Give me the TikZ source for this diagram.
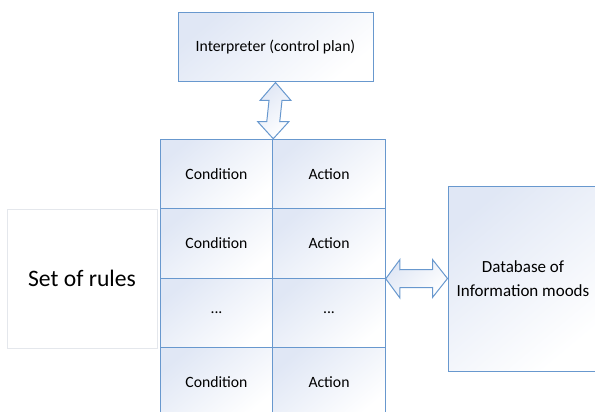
\documentclass[tikz,border=0pt]{standalone}
\usepackage{fontspec}
\setmainfont{Carlito}
\usetikzlibrary{calc}
\definecolor{edgeblue}{RGB}{104,152,206}
\definecolor{paleblue}{RGB}{224,231,245}
\definecolor{lightgrey}{RGB}{228,231,236}
\tikzset{
  softfill/.style={top color=paleblue, bottom color=white, shading angle=40},
  cell/.style={draw=edgeblue, line width=1pt, softfill, rectangle, inner sep=0pt,
    minimum width=112.5pt, minimum height=69.5pt,
    font=\fontsize{15.7}{19}\selectfont},
  bluebox/.style={draw=edgeblue, line width=1pt, softfill, rectangle, inner sep=0pt,
    align=center},
  greybox/.style={draw=lightgrey, line width=0.8pt, fill=white, rectangle, inner sep=0pt},
  dblarrow/.style={draw=edgeblue, line width=1pt, softfill, line join=miter}
}
\begin{document}
\begin{tikzpicture}[x=1pt, y=-1pt]
\useasboundingbox (0,0) rectangle (595,412);

% control plan at the top
\node[bluebox, minimum width=195pt, minimum height=69pt,
      font=\fontsize{15.7}{19}\selectfont] (interp) at (275.5,47.5) {Interpreter (control plan)};

% label box on the left
\node[greybox, minimum width=150pt, minimum height=139pt,
      font=\fontsize{23.6}{28}\selectfont] (rules) at (82,278.5) {Set of rules};

% rule table: condition / action pairs
\node[cell] (c1) at (216.5,174) {Condition};
\node[cell] (a1) at (329,174) {Action};
\node[cell] (c2) at (216.5,243.5) {Condition};
\node[cell] (a2) at (329,243.5) {Action};
\node[cell] (c3) at (216.5,313) {...};
\node[cell] (a3) at (329,313) {...};
\node[cell] (c4) at (216.5,382.5) {Condition};
\node[cell] (a4) at (329,382.5) {Action};

% database on the right
\node[bluebox, minimum width=150pt, minimum height=185pt,
      font=\fontsize{17}{24}\selectfont] (db) at (523,278.5) {Database of\\Information moods};

% vertical double arrow: interpreter <-> rule table
\coordinate (va) at (interp.south);
\coordinate (vb) at (c1.north east);
\draw[dblarrow] (va) -- ($(va)+(15.5,18)$) -- ($(va)+(6.5,18)$)
  -- ($(vb)+(6.5,-17)$) -- ($(vb)+(15.5,-17)$) -- (vb)
  -- ($(vb)+(-15.5,-17)$) -- ($(vb)+(-6.5,-17)$)
  -- ($(va)+(-6.5,18)$) -- ($(va)+(-15.5,18)$) -- cycle;

% horizontal double arrow: rule table <-> database
\coordinate (ha) at (a2.south east);
\coordinate (hb) at (db.west);
\draw[dblarrow] (ha) -- ($(ha)+(14,-19)$) -- ($(ha)+(14,-9)$)
  -- ($(hb)+(-15,-9)$) -- ($(hb)+(-15,-19)$) -- (hb)
  -- ($(hb)+(-15,19)$) -- ($(hb)+(-15,9)$)
  -- ($(ha)+(14,9)$) -- ($(ha)+(14,19)$) -- cycle;
\end{tikzpicture}
\end{document}
